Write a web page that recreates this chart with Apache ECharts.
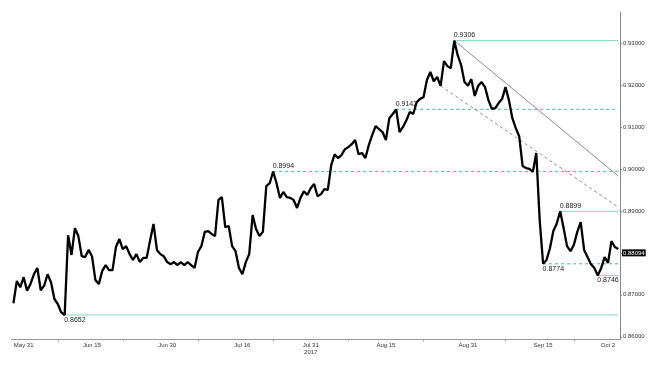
<!DOCTYPE html>
<html>
<head>
<meta charset="utf-8">
<script src="https://cdn.jsdelivr.net/npm/echarts@6/dist/echarts.min.js"></script>
<style>
html,body{margin:0;padding:0;background:#fff;}
#chart{width:660px;height:368px;}
</style>
</head>
<body>
<div id="chart"></div>
<script>
// ---- data (12-hour samples on trading days, 31 May – 2 Oct 2017) ----
const prices = [
  0.8680, 0.8733, 0.8718, 0.8742, 0.8710, 0.8726, 0.8749, 0.8764, 0.8711, 0.8722,
  0.8749, 0.8730, 0.8690, 0.8678, 0.8658, 0.8652, 0.8842, 0.8795, 0.8859, 0.8840,
  0.8792, 0.8790, 0.8807, 0.8792, 0.8735, 0.8726, 0.8757, 0.8771, 0.8759, 0.8759,
  0.8814, 0.8833, 0.8809, 0.8816, 0.8797, 0.8783, 0.8797, 0.8778, 0.8788, 0.8788,
  0.8830, 0.8869, 0.8807, 0.8797, 0.8792, 0.8778, 0.8773, 0.8778, 0.8771, 0.8778,
  0.8771, 0.8778, 0.8771, 0.8764, 0.8802, 0.8816, 0.8850, 0.8852, 0.8845, 0.8840,
  0.8926, 0.8933, 0.8861, 0.8864, 0.8816, 0.8804, 0.8764, 0.8749, 0.8778, 0.8797,
  0.8890, 0.8857, 0.8840, 0.8850, 0.8959, 0.8966, 0.8994, 0.8966, 0.8931, 0.8945,
  0.8933, 0.8931, 0.8926, 0.8907, 0.8931, 0.8947, 0.8938, 0.8954, 0.8964, 0.8935,
  0.8940, 0.8952, 0.8950, 0.9009, 0.9035, 0.9026, 0.9033, 0.9047, 0.9052, 0.9059,
  0.9069, 0.9035, 0.9038, 0.9026, 0.9057, 0.9081, 0.9102, 0.9095, 0.9088, 0.9069,
  0.9121, 0.9131, 0.9142, 0.9088, 0.9100, 0.9116, 0.9136, 0.9131, 0.9159, 0.9167,
  0.9171, 0.9212, 0.9231, 0.9209, 0.9219, 0.9198, 0.9257, 0.9245, 0.9240, 0.9306,
  0.9271, 0.9248, 0.9207, 0.9198, 0.9214, 0.9174, 0.9198, 0.9207, 0.9195, 0.9164,
  0.9143, 0.9145, 0.9157, 0.9167, 0.9195, 0.9164, 0.9121, 0.9097, 0.9078, 0.9007,
  0.9002, 0.9000, 0.8993, 0.9038, 0.8878, 0.8774, 0.8783, 0.8811, 0.8852, 0.8870,
  0.8899, 0.8859, 0.8816, 0.8804, 0.8819, 0.8850, 0.8873, 0.8807, 0.8790, 0.8773,
  0.8764, 0.8746, 0.8764, 0.8790, 0.8776, 0.8828, 0.8814, 0.88094
];
const lastPrice = 0.88094;

// support / resistance levels (start where the price touched them)
const levels      = [0.9306, 0.9142, 0.8994, 0.8899, 0.8774, 0.8746, 0.8652];
const levelDashed = [false,  true,   true,   false,  true,   false,  false ];
const levelBelow  = [false,  false,  false,  false,  true,   true,   true  ];

// trend lines: [start price (touch point), end price at right edge]
const trendStart  = [0.9306, 0.9198];
const trendEnd    = [0.8983, 0.8909];
const trendDashed = [false, true];

// axis labels
const xLabels = ['May 31', 'Jun 15', 'Jun 30', 'Jul 16', 'Jul 31\n2017', 'Aug 15', 'Aug 31', 'Sep 15', 'Oct 2'];
const yTicks  = [0.86, 0.87, 0.88, 0.89, 0.90, 0.91, 0.92, 0.93];

// ---- categories: two slots per trading day ----
const categories = [];
(function () {
  const d = new Date(Date.UTC(2017, 4, 31));
  const end = new Date(Date.UTC(2017, 9, 2));
  while (d <= end) {
    const wd = d.getUTCDay();
    if (wd !== 0 && wd !== 6) {
      const s = d.toISOString().slice(0, 10);
      categories.push(s + ' 00:00', s + ' 12:00');
    }
    d.setUTCDate(d.getUTCDate() + 1);
  }
})();

// layout: label slots and tick slots on the category axis
const labelSlots = [3, 23, 45, 67, 87, 109, 133, 155, 174];
const tickSlots  = [13, 32, 54, 76, 98, 120, 144, 164];
const labelMap = {};
labelSlots.forEach((s, i) => { labelMap[categories[s]] = xLabels[i]; });

const lastIdx = categories.length - 1;
const mint = '#8bd8c1';
const mintDash = '#5cc7a8';
const trendGrey = '#8c8c8c';

const series = [];
levels.forEach((lv, i) => {
  const start = prices.indexOf(lv);
  series.push({
    type: 'line',
    silent: true,
    z: 1,
    symbol: 'circle',
    symbolSize: 1,
    showSymbol: true,
    itemStyle: { color: 'rgba(0,0,0,0)', borderWidth: 0 },
    lineStyle: { color: levelDashed[i] ? mintDash : mint, width: levelDashed[i] ? 1.2 : 1, type: levelDashed[i] ? [3, 3] : 'solid' },
    label: { show: false },
    data: [
      {
        value: [start, lv],
        label: {
          show: true,
          formatter: lv.toFixed(4),
          position: levelBelow[i] ? [0, 2] : [0, -1],
          align: 'left',
          verticalAlign: levelBelow[i] ? 'top' : 'bottom',
          fontSize: 7, color: '#222', fontFamily: 'Liberation Sans'
        }
      },
      { value: [lastIdx, lv] }
    ]
  });
});
trendStart.forEach((p, i) => {
  series.push({
    type: 'line',
    silent: true,
    z: 1,
    symbol: 'none',
    lineStyle: { color: trendGrey, width: 1, type: trendDashed[i] ? [3, 3] : 'solid' },
    data: [[prices.indexOf(p), p], [lastIdx, trendEnd[i]]]
  });
});
series.push({
  name: 'EURGBP',
  type: 'line',
  data: prices,
  symbol: 'none',
  lineStyle: { color: '#000', width: 2.3 },
  z: 3,
  markLine: {
    silent: true,
    symbol: ['none', 'none'],
    lineStyle: { color: 'rgba(0,0,0,0)', width: 0 },
    data: [{
      yAxis: lastPrice,
      label: {
        show: true, position: 'end', distance: 2,
        formatter: lastPrice.toFixed(5),
        backgroundColor: '#000', color: '#fff', padding: [1, 1, 0, 1],
        fontSize: 6, fontFamily: 'Liberation Sans'
      }
    }],
    z: 6
  }
});

const chart = echarts.init(document.getElementById('chart'), null, { renderer: 'canvas' });
chart.setOption({
  animation: false,
  backgroundColor: '#fff',
  grid: { left: 11.7, right: 40, top: 12, bottom: 28.7, containLabel: false },
  xAxis: {
    type: 'category',
    data: categories,
    boundaryGap: true,
    axisLine: { show: true, lineStyle: { color: '#999', width: 1 } },
    axisTick: { show: true, alignWithLabel: true, length: 2, customValues: tickSlots, lineStyle: { color: '#999' } },
    axisLabel: {
      customValues: labelSlots,
      formatter: v => labelMap[v] || '',
      fontSize: 6, color: '#333', margin: 3, lineHeight: 7,
      fontFamily: 'Liberation Sans'
    },
    splitLine: { show: false }
  },
  yAxis: {
    type: 'value',
    position: 'right',
    min: 0.8594, max: 0.9374,
    axisLine: { show: true, lineStyle: { color: '#888', width: 1 } },
    axisTick: { show: true, length: 2, customValues: yTicks, lineStyle: { color: '#888' } },
    axisLabel: {
      customValues: yTicks,
      formatter: v => v.toFixed(5),
      fontSize: 6, color: '#333', margin: 3,
      fontFamily: 'Liberation Sans'
    },
    splitLine: { show: false }
  },
  series: series
});
</script>
</body>
</html>
